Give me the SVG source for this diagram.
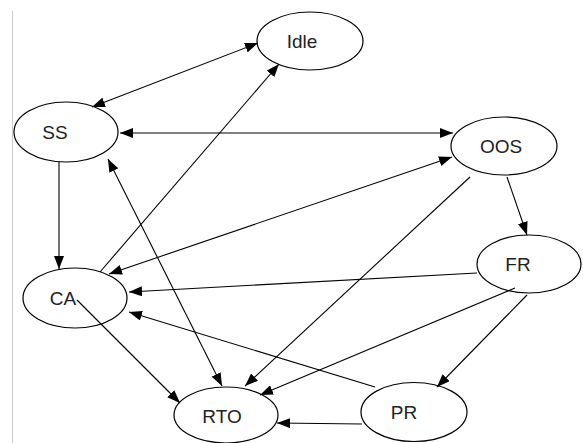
<svg xmlns="http://www.w3.org/2000/svg" width="583" height="443" viewBox="0 0 583 443">
<style>
.node ellipse{fill:#ffffff;stroke:#000;stroke-width:1.2}
.node text{font-family:"Liberation Sans",Arial,sans-serif;font-size:19px;fill:#222;text-anchor:middle}
.edges line{stroke:#000;stroke-width:1.1}
</style>
<defs>
<marker id="ah" viewBox="0 0 13 10" refX="13" refY="5" markerWidth="13" markerHeight="10" markerUnits="userSpaceOnUse" orient="auto-start-reverse">
<path d="M0,0 L13,5 L0,10 z" fill="#000"/>
</marker>
</defs>
<rect x="0" y="0" width="583" height="443" fill="#ffffff"/>
<line x1="12.5" y1="11" x2="12.5" y2="443" stroke="#cccccc" stroke-width="1"/>
<g id="n-idle" class="node"><ellipse cx="310" cy="41" rx="53" ry="29"/><text x="302" y="48">Idle</text></g>
<g id="n-ss" class="node"><ellipse cx="66" cy="132" rx="52" ry="30"/><text x="55" y="139">SS</text></g>
<g id="n-oos" class="node"><ellipse cx="504" cy="146" rx="53" ry="29"/><text x="501" y="153">OOS</text></g>
<g id="n-ca" class="node"><ellipse cx="75" cy="298" rx="52" ry="30"/><text x="63" y="305">CA</text></g>
<g id="n-fr" class="node"><ellipse cx="529" cy="264" rx="52" ry="29"/><text x="518" y="271">FR</text></g>
<g id="n-pr" class="node"><ellipse cx="414" cy="412" rx="53" ry="29.5"/><text x="404" y="419">PR</text></g>
<g id="n-rto" class="node"><ellipse cx="226" cy="415" rx="52" ry="28"/><text x="222" y="423">RTO</text></g>
<g class="edges">
<line x1="92" y1="107" x2="258" y2="43" marker-start="url(#ah)" marker-end="url(#ah)"/>
<line x1="120" y1="133" x2="453" y2="133" marker-start="url(#ah)" marker-end="url(#ah)"/>
<line x1="59" y1="162" x2="59" y2="269" marker-end="url(#ah)"/>
<line x1="100" y1="272" x2="279" y2="64" marker-end="url(#ah)"/>
<line x1="108" y1="159" x2="222" y2="386" marker-start="url(#ah)" marker-end="url(#ah)"/>
<line x1="452" y1="157" x2="109" y2="274" marker-start="url(#ah)" marker-end="url(#ah)"/>
<line x1="470" y1="177" x2="245" y2="386" marker-end="url(#ah)"/>
<line x1="507" y1="177" x2="527" y2="235" marker-end="url(#ah)"/>
<line x1="477" y1="273" x2="129" y2="292" marker-end="url(#ah)"/>
<line x1="515" y1="288" x2="260" y2="395" marker-end="url(#ah)"/>
<line x1="527" y1="295" x2="437" y2="387" marker-end="url(#ah)"/>
<line x1="375" y1="387" x2="129" y2="312" marker-end="url(#ah)"/>
<line x1="362" y1="424" x2="277" y2="423" marker-end="url(#ah)"/>
<line x1="77" y1="300" x2="180" y2="403" marker-end="url(#ah)"/>
</g>
</svg>
